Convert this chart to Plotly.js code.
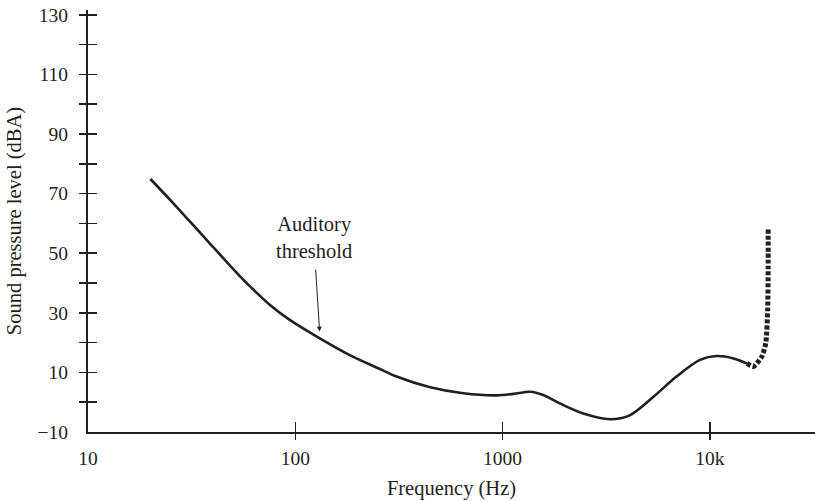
<!DOCTYPE html>
<html>
<head>
<meta charset="utf-8">
<script src="https://cdn.plot.ly/plotly-3.0.1.min.js"></script>
<style>html,body{margin:0;padding:0;background:#fff;overflow:hidden}</style>
</head>
<body>
<div id="chart" style="width:815px;height:501px"></div>
<script>
// Auditory threshold curve (solid part)
const freqHz = [20, 26, 37.4, 54, 61, 75, 94, 127, 183, 251, 308, 447, 647, 936, 1130, 1360, 1570, 1900, 2450, 3300, 4100, 5340, 6900, 8960, 10800, 13000, 15100];
const splDb  = [74.9, 66.5, 54.4, 42.3, 38.6, 32.8, 27.6, 22.0, 15.8, 11.4, 8.6, 5, 3, 2.3, 2.8, 3.5, 2.4, -0.5, -3.8, -5.7, -4.4, 1.8, 8.6, 14.2, 15.5, 14.7, 13];
// Dashed high-frequency tail
const tailHz = [15100, 16200, 17800, 18600, 19000, 19100, 19100];
const tailDb = [13, 12, 15.3, 19.8, 31, 45, 58];

const xLabelVals = [10, 100, 1000, 10000];
const xLabelText = ['10', '100', '1000', '10k'];
const xTickVals = [100, 1000, 10000];
const yLabelVals = [-10, 10, 30, 50, 70, 90, 110, 130];
const yLabelText = ['\u221210', '10', '30', '50', '70', '90', '110', '130'];
const yTickVals = [0, 10, 20, 30, 40, 50, 60, 70, 80, 90, 100, 110, 120, 130];

const ink = '#231f20';
const fnt = {family: 'Liberation Serif, Times New Roman, serif', size: 19.5, color: ink};
const fntT = {family: 'Liberation Serif, Times New Roman, serif', size: 20.5, color: ink};
const xRange = [1, 4.507];
const yRange = [-10, 131.6];

const traces = [
  {x: freqHz, y: splDb, type: 'scatter', mode: 'lines', line: {color: ink, width: 2.6, shape: 'spline', smoothing: 0.9}, hoverinfo: 'skip'},
  {x: tailHz, y: tailDb, type: 'scatter', mode: 'lines', line: {color: ink, width: 5, dash: '4px,2px', shape: 'spline', smoothing: 0.6}, hoverinfo: 'skip'},
  {x: [], y: [], type: 'scatter', mode: 'lines', xaxis: 'x2', yaxis: 'y2', hoverinfo: 'skip'},
  {x: [], y: [], type: 'scatter', mode: 'lines', xaxis: 'x3', yaxis: 'y3', hoverinfo: 'skip'}
];

const baseX = {type: 'log', range: xRange, showgrid: false, zeroline: false, fixedrange: true};
const baseY = {range: yRange, showgrid: false, zeroline: false, fixedrange: true};

const layout = {
  width: 815, height: 501,
  margin: {l: 88, r: 0, t: 10, b: 69},
  paper_bgcolor: '#fff', plot_bgcolor: '#fff',
  showlegend: false,
  font: fnt,
  xaxis: Object.assign({}, baseX, {
    showline: true, linecolor: ink, linewidth: 1.5,
    ticks: '', tickvals: xLabelVals, ticktext: xLabelText, tickfont: fnt,
    ticklabelstandoff: 8,
    title: {text: 'Frequency (Hz)', font: fntT, standoff: 12}
  }),
  yaxis: Object.assign({}, baseY, {
    showline: true, linecolor: ink, linewidth: 2,
    ticks: '', tickvals: yLabelVals, ticktext: yLabelText, tickfont: fnt,
    ticklabelstandoff: 14,
    title: {text: 'Sound pressure level (dBA)', font: fntT, standoff: 10}
  }),
  xaxis2: Object.assign({}, baseX, {overlaying: 'x', anchor: 'y2', showline: false, ticks: 'inside', ticklen: 10, tickwidth: 1.3, tickcolor: ink, tickvals: xTickVals, showticklabels: false}),
  yaxis2: Object.assign({}, baseY, {overlaying: 'y', anchor: 'x2', side: 'left', showline: false, ticks: 'inside', ticklen: 9, tickwidth: 1.5, tickcolor: ink, tickvals: yTickVals, showticklabels: false}),
  xaxis3: Object.assign({}, baseX, {overlaying: 'x', anchor: 'y3', showline: false, ticks: 'outside', ticklen: 7, tickwidth: 1.3, tickcolor: ink, tickvals: xTickVals, showticklabels: false}),
  yaxis3: Object.assign({}, baseY, {overlaying: 'y', anchor: 'x3', side: 'left', showline: false, ticks: 'outside', ticklen: 8, tickwidth: 1.5, tickcolor: ink, tickvals: yTickVals, showticklabels: false}),
  annotations: [{
    x: Math.log10(131), y: 23.7, xref: 'x', yref: 'y',
    text: 'Auditory<br>threshold', font: fntT,
    showarrow: true, ax: -6, ay: -94, arrowhead: 2, arrowsize: 1, arrowwidth: 1, arrowcolor: ink,
    startstandoff: 6
  }]
};

Plotly.newPlot('chart', traces, layout, {displayModeBar: false, staticPlot: true});
</script>
</body>
</html>
